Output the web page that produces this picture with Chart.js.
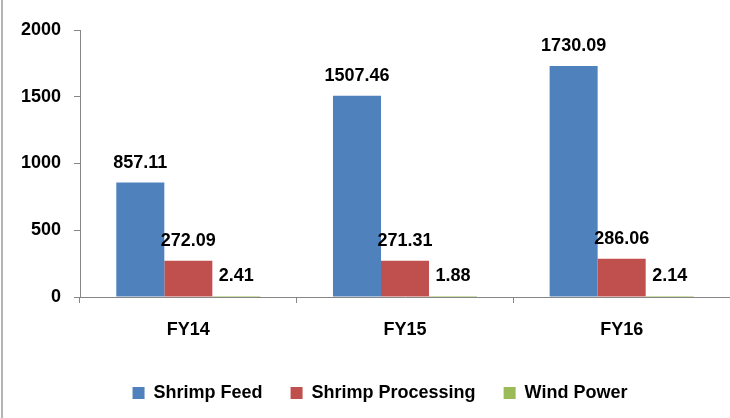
<!DOCTYPE html>
<html>
<head>
<meta charset="utf-8">
<script src="https://cdn.jsdelivr.net/npm/chart.js@4/dist/chart.umd.min.js"></script>
<style>
  html, body { margin: 0; padding: 0; background: #fff; }
  #wrap { position: relative; width: 730px; height: 418px; }
  #frame { position: absolute; left: 1px; top: 0; width: 2px; height: 418px; background: #b4b4b4; }
</style>
</head>
<body>
<div id="wrap">
  <canvas id="chart" width="730" height="418"></canvas>
  <div id="frame"></div>
</div>
<script>
// chart data
const categories = ['FY14', 'FY15', 'FY16'];
const shrimpFeed = [857.11, 1507.46, 1730.09];
const shrimpProcessing = [272.09, 271.31, 286.06];
const windPower = [2.41, 1.88, 2.14];
const yTicks = [0, 500, 1000, 1500, 2000];

const FONT = '"Liberation Sans", Arial, sans-serif';
const labelFont = { family: FONT, size: 18, weight: 'bold' };

// draw value labels above each bar
const valueLabels = {
    id: 'valueLabels',
    afterDatasetsDraw(chart) {
        const ctx = chart.ctx;
        ctx.save();
        ctx.font = 'bold 18px ' + FONT;
        ctx.fillStyle = '#000';
        ctx.textAlign = 'center';
        ctx.textBaseline = 'alphabetic';
        chart.data.datasets.forEach((ds, i) => {
            chart.getDatasetMeta(i).data.forEach((bar, j) => {
                ctx.fillText(ds.data[j].toFixed(2), bar.x, bar.y - 15);
            });
        });
        ctx.restore();
    }
};

// legend sits a bit right of centre in the original
const shiftLegend = {
    id: 'shiftLegend',
    afterLayout(chart) {
        chart.legend.left += 15;
        chart.legend.right += 15;
    }
};

const ctx = document.getElementById('chart').getContext('2d');
new Chart(ctx, {
    type: 'bar',
    data: {
        labels: categories,
        datasets: [
            { label: 'Shrimp Feed', data: shrimpFeed, backgroundColor: '#4F81BD' },
            { label: 'Shrimp Processing', data: shrimpProcessing, backgroundColor: '#C0504D' },
            { label: 'Wind Power', data: windPower, backgroundColor: '#9BBB59', minBarLength: 1 }
        ]
    },
    options: {
        responsive: false,
        animation: false,
        devicePixelRatio: 1,
        layout: { padding: { top: 30, right: 0, bottom: 6, left: 0 } },
        datasets: { bar: { barPercentage: 1, categoryPercentage: 0.665 } },
        plugins: {
            legend: {
                position: 'bottom',
                labels: {
                    boxWidth: 12,
                    boxHeight: 12,
                    padding: 28,
                    color: '#000',
                    font: labelFont
                }
            },
            tooltip: { enabled: false }
        },
        scales: {
            x: {
                afterFit: s => { s.height = 59; },
                grid: { offset: true, drawOnChartArea: false, tickLength: 6, color: '#868686' },
                border: { color: '#868686' },
                ticks: { color: '#000', padding: 16, font: labelFont }
            },
            y: {
                min: 0,
                max: 2000,
                afterFit: s => { s.width = 80; },
                afterBuildTicks: s => { s.ticks = yTicks.map(v => ({ value: v })); },
                grid: { drawOnChartArea: false, tickLength: 6, color: '#868686' },
                border: { color: '#868686' },
                ticks: { color: '#000', padding: 13, font: labelFont, callback: v => String(v) }
            }
        }
    },
    plugins: [valueLabels, shiftLegend]
});
</script>
</body>
</html>
